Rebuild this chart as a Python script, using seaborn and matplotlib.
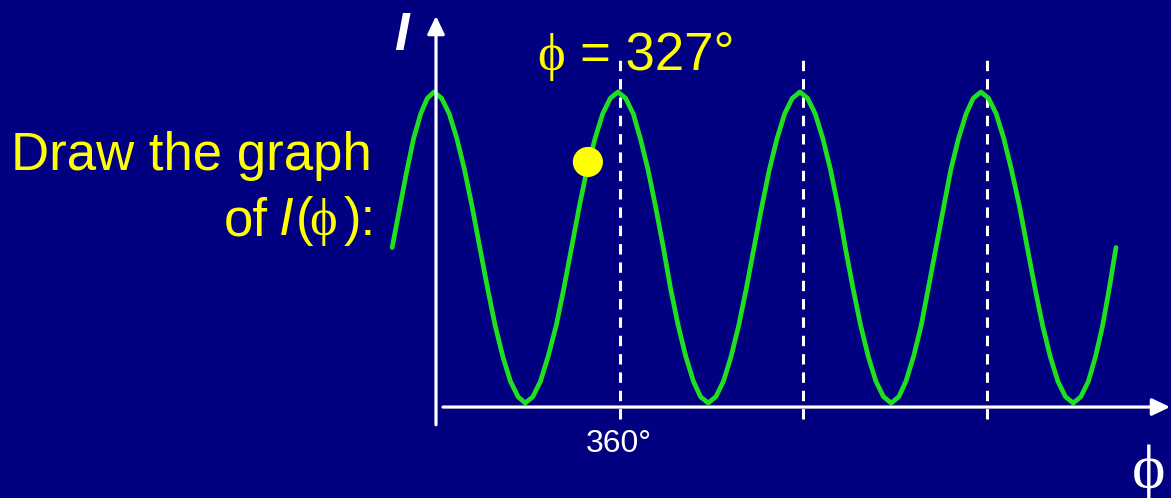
import matplotlib
matplotlib.use('Agg')
import matplotlib.pyplot as plt
import seaborn as sns

# values: phase (degrees) and intensity (peak = 1)
phi = [-86, -72, -58, -44, -30, -17, -4,
       11, 26, 41, 56, 71, 86, 101, 116, 131, 146, 161, 175,
       190, 205, 220, 236, 251, 266, 281, 296, 312, 327, 342, 357,
       372, 387, 401, 416, 431, 446, 460, 475, 490, 505, 519, 534,
       549, 564, 579, 594, 609, 624, 639, 654, 669, 684, 699, 714,
       729, 744, 759, 774, 789, 803, 818, 833, 848, 863, 878, 893,
       908, 922, 937, 952, 966, 981, 996, 1010, 1025, 1040, 1054, 1069,
       1084, 1099, 1114, 1129, 1145, 1160, 1175, 1190, 1205, 1220, 1235, 1250,
       1265, 1280, 1294, 1308, 1321, 1334]
intensity = [0.50, 0.62, 0.74, 0.85, 0.93, 0.98, 1.00,
             0.98, 0.93, 0.85, 0.75, 0.63, 0.50, 0.37, 0.25, 0.15, 0.07, 0.02, 0.00,
             0.02, 0.07, 0.15, 0.25, 0.37, 0.50, 0.63, 0.75, 0.85, 0.93, 0.98, 1.00,
             0.98, 0.93, 0.85, 0.75, 0.63, 0.50, 0.37, 0.25, 0.15, 0.07, 0.02, 0.00,
             0.02, 0.07, 0.15, 0.25, 0.37, 0.50, 0.63, 0.75, 0.85, 0.93, 0.98, 1.00,
             0.98, 0.93, 0.85, 0.75, 0.63, 0.50, 0.37, 0.25, 0.15, 0.07, 0.02, 0.00,
             0.02, 0.07, 0.15, 0.25, 0.37, 0.50, 0.63, 0.75, 0.85, 0.93, 0.98, 1.00,
             0.98, 0.93, 0.85, 0.75, 0.63, 0.50, 0.37, 0.25, 0.15, 0.07, 0.02, 0.00,
             0.02, 0.07, 0.15, 0.25, 0.37, 0.50]
marks = [360, 720, 1080]
dot_phi = [298]
dot_i = [0.775]

W, H = 1171, 498
bg = '#000080'
green = '#1ee01e'
yellow = '#ffff00'

sns.set_style('white')
plt.rcParams['font.family'] = ['Liberation Sans', 'DejaVu Sans']

fig = plt.figure(figsize=(W / 100, H / 100), dpi=100, facecolor=bg)
ax = fig.add_axes([0, 0, 1, 1])
ax.set_facecolor(bg)

k = 360 / 183.5
ax.set_xlim(-436 * k, (W - 436) * k)
ax.set_ylim(-(H - 403) / 311, 1 + 92 / 311)
ax.axis('off')

# axes with arrows
arrow = dict(arrowstyle='-|>,head_length=1.08,head_width=0.52', lw=2.3,
             color='white', shrinkA=0, shrinkB=0)
ax.annotate('', xy=((1170 - 436) * k, -0.013), xytext=(7 * k, -0.013), arrowprops=arrow)
ax.annotate('', xy=(0, 1 + 76 / 311), xytext=(0, -0.07), arrowprops=arrow)

# dashed period marks
for m in marks:
    ax.plot([m, m], [-0.052, 1.12], color='white', lw=2.2, dashes=(3.4, 2.6))

sns.lineplot(x=phi, y=intensity, ax=ax, color=green, linewidth=3.4,
             sort=False, solid_joinstyle='round', solid_capstyle='round')
sns.scatterplot(x=dot_phi, y=dot_i, ax=ax, color=yellow, s=470,
                edgecolor='none', zorder=5)


def px(x, y):
    return x / W, 1 - y / H


serif = ['Liberation Serif', 'DejaVu Serif']
fs = 38

fig.text(*px(372, 170), 'Draw the graph', color=yellow, fontsize=fs, ha='right')
fig.text(*px(224, 235), 'of', color=yellow, fontsize=fs)
fig.text(*px(279, 235), 'I', color=yellow, fontsize=fs, style='italic')
fig.text(*px(296, 235), '(', color=yellow, fontsize=fs)
fig.text(*px(309, 235), '\u03d5', color=yellow, fontsize=fs, family=serif)
fig.text(*px(344, 235), '):', color=yellow, fontsize=fs)

fig.text(*px(537, 70), '\u03d5', color=yellow, fontsize=fs, family=serif)
fig.text(*px(580, 70), '= 327\u00b0', color=yellow, fontsize=fs)

fig.text(*px(394, 50), 'I', color='white', fontsize=fs, style='italic', weight='bold')
fig.text(*px(619, 452), '360\u00b0', color='white', fontsize=23, ha='center')
fig.text(*px(1149, 488), '\u03d5', color='white', fontsize=46, family=serif, ha='center')

fig.savefig('out.png', dpi=100, facecolor=bg)
